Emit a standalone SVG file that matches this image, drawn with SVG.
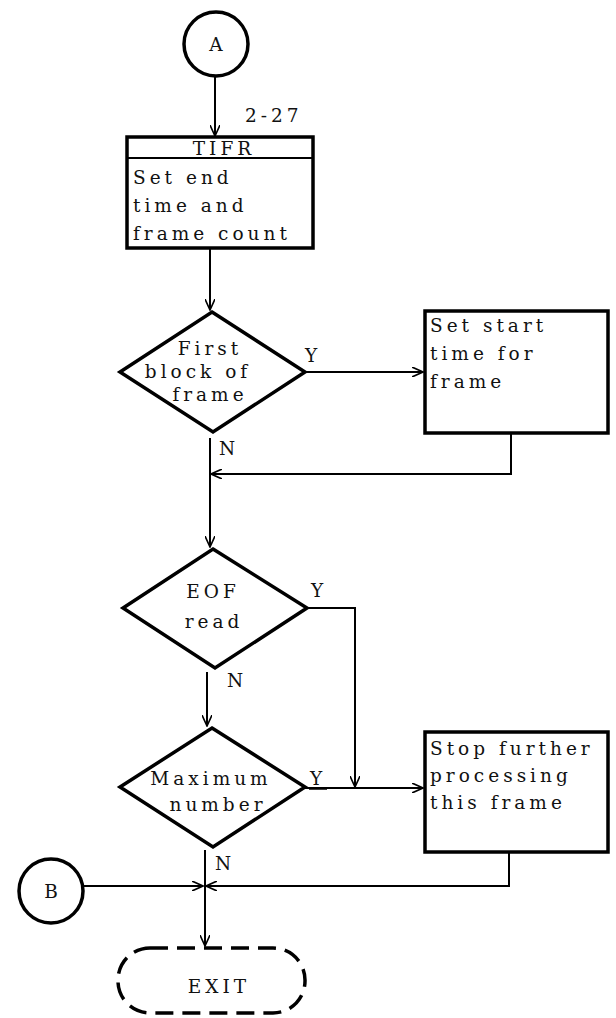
<svg xmlns="http://www.w3.org/2000/svg" width="616" height="1018" viewBox="0 0 616 1018">
<defs>
<marker id="arr" markerWidth="12" markerHeight="10" refX="11" refY="5" orient="auto" markerUnits="userSpaceOnUse">
<path d="M0,0 L11,5 L0,10" fill="none" stroke="#000" stroke-width="1.6"/>
</marker>
<style>
.t{font-family:"DejaVu Serif","Liberation Serif",serif;font-size:18.5px;fill:#111;letter-spacing:4px}
.n{fill:#fff;stroke:#000;stroke-width:3.5}
.c{fill:none;stroke:#000;stroke-width:2}
</style>
</defs>
<rect width="616" height="1018" fill="#fff"/>
<g id="connectors">
<path class="c" d="M215,76 V136" marker-end="url(#arr)"/>
<path class="c" d="M210,248 V310" marker-end="url(#arr)"/>
<path class="c" d="M305,372 H423" marker-end="url(#arr)"/>
<path class="c" d="M210,438 V547" marker-end="url(#arr)"/>
<path class="c" d="M511,433 V474 H211" marker-end="url(#arr)"/>
<path class="c" d="M307,608 H355 V787" marker-end="url(#arr)"/>
<path class="c" d="M207,672 V726" marker-end="url(#arr)"/>
<path class="c" d="M305,788 H423" marker-end="url(#arr)"/>
<path class="c" d="M509,852 V886 H206" marker-end="url(#arr)"/>
<path class="c" d="M83,886 H203" marker-end="url(#arr)"/>
<path class="c" d="M205,850 V946" marker-end="url(#arr)"/>
</g>
<g id="nodeA">
<circle class="n" cx="216" cy="44" r="32" stroke-width="3"/>
<text class="t" x="218" y="51" text-anchor="middle">A</text>
</g>
<g id="tifr">
<text class="t" x="245" y="122">2-27</text>
<rect class="n" x="127" y="137" width="186" height="111"/>
<line x1="127" y1="158" x2="313" y2="158" stroke="#000" stroke-width="2"/>
<text class="t" x="224" y="155" text-anchor="middle">TIFR</text>
<text class="t" x="133" y="184">Set end</text>
<text class="t" x="133" y="212">time and</text>
<text class="t" x="133" y="240">frame count</text>
</g>
<g id="firstBlock">
<polygon class="n" points="212,312 305,372 213,432 120,372"/>
<text class="t" x="210" y="355" text-anchor="middle">First</text>
<text class="t" x="198" y="378" text-anchor="middle">block of</text>
<text class="t" x="210" y="401" text-anchor="middle">frame</text>
<text class="t" x="305" y="362">Y</text>
<text class="t" x="219" y="455">N</text>
</g>
<g id="setStart">
<rect class="n" x="425" y="311" width="183" height="122"/>
<text class="t" x="430" y="332">Set start</text>
<text class="t" x="430" y="360">time for</text>
<text class="t" x="430" y="388">frame</text>
</g>
<g id="eof">
<polygon class="n" points="213,549 307,608 215,668 123,608"/>
<text class="t" x="213" y="598" text-anchor="middle">EOF</text>
<text class="t" x="214" y="628" text-anchor="middle">read</text>
<text class="t" x="311" y="597">Y</text>
<text class="t" x="227" y="687">N</text>
</g>
<g id="maximum">
<polygon class="n" points="212,728 305,787 213,847 120,787"/>
<text class="t" x="211" y="785" text-anchor="middle">Maximum</text>
<text class="t" x="218" y="811" text-anchor="middle">number</text>
<text class="t" x="310" y="785">Y</text>
<line x1="309" y1="789" x2="327" y2="789" stroke="#000" stroke-width="1.5"/>
<text class="t" x="215" y="870">N</text>
</g>
<g id="stop">
<rect class="n" x="425" y="732" width="183" height="120"/>
<text class="t" x="430" y="755">Stop further</text>
<text class="t" x="430" y="782">processing</text>
<text class="t" x="430" y="809">this frame</text>
</g>
<g id="nodeB">
<circle class="n" cx="51" cy="891" r="32" stroke-width="3"/>
<text class="t" x="53" y="898" text-anchor="middle">B</text>
</g>
<g id="exit">
<rect x="118" y="948" width="187" height="65" rx="32" fill="#fff" stroke="#000" stroke-width="3.5" stroke-dasharray="18,9"/>
<text class="t" x="219" y="993" text-anchor="middle">EXIT</text>
</g>
</svg>
